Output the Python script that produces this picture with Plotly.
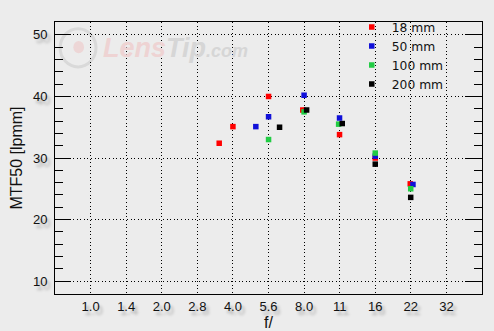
import plotly.graph_objects as go
import math

# ---- data ----
f_ticks = [2 ** (k / 2) for k in range(0, 11)]
tick_labels = ["1.0", "1.4", "2.0", "2.8", "4.0", "5.6", "8.0", "11", "16", "22", "32"]

series_names = ["18 mm", "50 mm", "100 mm", "200 mm"]
series_colors = ["#ff0000", "#1010d8", "#22cc44", "#000000"]

f_18 = [3.5, 4.0, 5.66, 7.9, 11.3, 16.0, 22.5]
mtf_18 = [32.4, 35.1, 40.0, 37.8, 33.8, 30.0, 25.8]
f_50 = [5.0, 5.66, 8.0, 11.3, 16.0, 23.1]
mtf_50 = [35.1, 36.7, 40.2, 36.5, 30.3, 25.7]
f_100 = [5.66, 8.0, 11.2, 16.0, 22.6]
mtf_100 = [33.0, 37.5, 35.5, 30.8, 25.0]
f_200 = [6.3, 8.2, 11.6, 16.0, 22.6]
mtf_200 = [35.0, 37.8, 35.6, 29.0, 23.6]

xs = [f_18, f_50, f_100, f_200]
ys = [mtf_18, mtf_50, mtf_100, mtf_200]

bg = "#ececec"
fig = go.Figure()
for name, color, x, y in zip(series_names, series_colors, xs, ys):
    fig.add_trace(go.Scatter(
        x=x, y=y, mode="markers", name=name,
        marker=dict(symbol="square", size=5.5, color=color, line=dict(width=0)),
    ))

shadow = "3px 4px 3px rgba(0,0,0,0.28)"
tickfont = dict(family="Liberation Sans, Arial, sans-serif", size=13, color="#111", shadow=shadow)

fig.update_layout(
    width=494, height=331,
    margin=dict(l=55, r=12, t=18, b=37),
    paper_bgcolor=bg, plot_bgcolor=bg,
    showlegend=True,
    legend=dict(
        x=0.695, y=1.035, xanchor="left", yanchor="top",
        bgcolor="rgba(0,0,0,0)", borderwidth=0,
        font=dict(family="DejaVu Sans, sans-serif", size=12.3, color="#111"),
        itemwidth=30, tracegroupgap=0,
    ),
    xaxis=dict(
        type="log", automargin=False,
        range=[math.log10(2 ** -0.5), math.log10(2 ** 5.5)],
        tickvals=f_ticks, ticktext=tick_labels,
        ticks="", showline=True, linecolor="black", linewidth=1, mirror=True,
        showgrid=True, gridcolor="black", gridwidth=1, griddash="1px,2.6px",
        zeroline=False, tickfont=tickfont,
        title=dict(text="f/", font=dict(family="Liberation Sans, Arial, sans-serif", size=16, color="#111"), standoff=2),
    ),
    yaxis=dict(
        range=[7.9, 52.1], automargin=False,
        tickvals=[10, 20, 30, 40, 50],
        ticks="inside", ticklen=16, tickcolor="black", tickwidth=1,
        minor=dict(dtick=2, tick0=0, ticks="inside", ticklen=8, tickcolor="black", showgrid=False),
        showline=True, linecolor="black", linewidth=1, mirror="ticks",
        showgrid=True, gridcolor="black", gridwidth=1, griddash="1px,2.6px",
        zeroline=False, tickfont=tickfont, ticklabelstandoff=4,
        title=dict(text="MTF50 [lpmm]", font=dict(family="Liberation Sans, Arial, sans-serif", size=16, color="#111"), standoff=6),
    ),
)

# faint watermark
fig.add_annotation(
    xref="paper", yref="paper", x=0.108, y=0.905, xanchor="left", yanchor="middle",
    text="<b><i><span style='color:#eed3d3'>Lens</span><span style='color:#d6d6d6'>Tip</span></i></b><span style='color:#d6d6d6;font-size:18px'><b><i>.com</i></b></span>",
    showarrow=False, font=dict(family="Liberation Sans, Arial, sans-serif", size=27),
)
fig.add_shape(type="circle", xref="paper", yref="paper",
              x0=0.012, x1=0.096, y0=0.835, y1=0.975,
              line=dict(color="#d9d9d9", width=3), layer="below")
fig.add_shape(type="circle", xref="paper", yref="paper",
              x0=0.043, x1=0.068, y0=0.885, y1=0.93,
              fillcolor="#edd6d6", line=dict(width=0), layer="below")

fig.write_html("out.html")
